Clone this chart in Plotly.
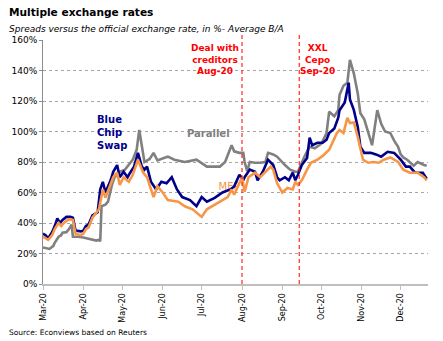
import plotly.graph_objects as go

# Blue Chip Swap spread (% over official rate)
bcs_dates = ["2020-03-01","2020-03-03","2020-03-05","2020-03-08","2020-03-10","2020-03-12","2020-03-14","2020-03-16",
             "2020-03-19","2020-03-22","2020-03-24","2020-03-26","2020-03-30","2020-04-01","2020-04-03","2020-04-05",
             "2020-04-06","2020-04-08","2020-04-12","2020-04-14","2020-04-16","2020-04-18","2020-04-22","2020-04-24",
             "2020-04-27","2020-04-29","2020-05-02","2020-05-05","2020-05-07","2020-05-10","2020-05-13","2020-05-16",
             "2020-05-18","2020-05-20","2020-05-23","2020-05-27","2020-05-31","2020-06-04","2020-06-08","2020-06-12",
             "2020-06-16","2020-06-22","2020-06-27","2020-07-01","2020-07-05","2020-07-11","2020-07-17","2020-07-23",
             "2020-07-26","2020-07-30","2020-08-02","2020-08-03","2020-08-07","2020-08-11","2020-08-13","2020-08-17",
             "2020-08-21","2020-08-25","2020-08-28","2020-08-30","2020-09-03","2020-09-06","2020-09-09","2020-09-11",
             "2020-09-13","2020-09-16","2020-09-20","2020-09-22","2020-09-24","2020-09-28","2020-10-02","2020-10-05",
             "2020-10-07","2020-10-11","2020-10-14","2020-10-15","2020-10-19","2020-10-22","2020-10-23","2020-10-26",
             "2020-10-29","2020-10-31","2020-11-03","2020-11-08","2020-11-12","2020-11-16","2020-11-21","2020-11-26",
             "2020-12-01","2020-12-05","2020-12-08","2020-12-12","2020-12-18","2020-12-21"]
bcs_vals = [33, 32, 30, 34, 38, 43, 40, 42,
            44, 44, 43.5, 35, 34.5, 35, 38, 39,
            41, 45, 47, 62, 67, 60, 68, 73.6,
            78, 70, 73.6, 70, 73, 77, 86, 77,
            75, 77, 67, 62, 67, 66, 70, 62,
            57, 55, 51, 57, 54, 56.5, 60, 62,
            64, 71.6, 68, 70, 75, 73.6, 68, 73.6,
            81.5, 78, 70, 68, 70, 68, 73, 68,
            71.6, 78, 82.6, 96, 91, 92.6, 92.6, 94.6,
            99, 102, 109, 114, 119, 132, 121, 114,
            103, 90, 86, 86, 85, 83.5, 86.7, 86,
            81.5, 77, 77, 73, 73, 69]

# MEP spread
mep_dates = ["2020-03-01","2020-03-03","2020-03-05","2020-03-08","2020-03-10","2020-03-13","2020-03-15","2020-03-17",
             "2020-03-20","2020-03-22","2020-03-24","2020-03-26","2020-03-30","2020-04-01","2020-04-03","2020-04-05",
             "2020-04-08","2020-04-13","2020-04-16","2020-04-18","2020-04-22","2020-04-24","2020-04-27","2020-04-29",
             "2020-05-02","2020-05-06","2020-05-09","2020-05-13","2020-05-17","2020-05-20","2020-05-25","2020-05-28",
             "2020-06-01","2020-06-05","2020-06-13","2020-06-18","2020-06-24","2020-07-01","2020-07-05","2020-07-11",
             "2020-07-16","2020-07-21","2020-07-24","2020-07-26","2020-08-01","2020-08-03","2020-08-06","2020-08-11",
             "2020-08-15","2020-08-19","2020-08-23","2020-08-25","2020-08-28","2020-09-01","2020-09-05","2020-09-09",
             "2020-09-11","2020-09-13","2020-09-16","2020-09-20","2020-09-23","2020-09-28","2020-10-02","2020-10-07",
             "2020-10-13","2020-10-15","2020-10-18","2020-10-21","2020-10-23","2020-10-26","2020-10-29","2020-11-02",
             "2020-11-06","2020-11-10","2020-11-14","2020-11-18","2020-11-23","2020-11-29","2020-12-03","2020-12-08",
             "2020-12-14","2020-12-19","2020-12-21"]
mep_vals = [31, 30, 29, 32, 36, 40, 38, 40,
            42, 42.5, 42, 33, 32, 33, 36, 37,
            43.5, 49, 62, 56.6, 65, 70, 73, 65,
            70, 67, 71.6, 81.5, 73, 70, 57, 64,
            60, 55, 54, 51, 49, 44, 49, 52,
            55, 57, 62, 58.5, 70, 60.5, 70, 73,
            70, 73.6, 77, 75, 66, 60, 63, 62,
            67, 65, 68, 75, 79.5, 81.5, 84, 88,
            99, 101, 99, 109, 105.6, 106, 96.5, 81.5,
            79.5, 80, 79.5, 81.5, 83, 80, 75, 73,
            73, 70, 68]

# Parallel (informal) spread
par_dates = ["2020-03-01","2020-03-04","2020-03-06","2020-03-09","2020-03-10","2020-03-13","2020-03-15","2020-03-16",
             "2020-03-19","2020-03-21","2020-03-23","2020-03-24","2020-03-28","2020-04-01","2020-04-05","2020-04-08",
             "2020-04-11","2020-04-13","2020-04-14","2020-04-15","2020-04-18","2020-04-20","2020-04-23","2020-04-25",
             "2020-04-29","2020-05-03","2020-05-06","2020-05-09","2020-05-12","2020-05-14","2020-05-18","2020-05-22",
             "2020-05-25","2020-05-28","2020-06-03","2020-06-05","2020-06-10","2020-06-18","2020-06-27","2020-07-01",
             "2020-07-05","2020-07-15","2020-07-19","2020-07-24","2020-07-26","2020-07-30","2020-08-02","2020-08-03",
             "2020-08-05","2020-08-07","2020-08-11","2020-08-15","2020-08-19","2020-08-21","2020-08-25","2020-08-28",
             "2020-08-30","2020-09-03","2020-09-07","2020-09-11","2020-09-13","2020-09-16","2020-09-18","2020-09-22",
             "2020-09-26","2020-10-01","2020-10-05","2020-10-07","2020-10-11","2020-10-14","2020-10-15","2020-10-18",
             "2020-10-21","2020-10-23","2020-10-26","2020-10-29","2020-10-31","2020-11-03","2020-11-06","2020-11-09",
             "2020-11-13","2020-11-16","2020-11-19","2020-11-23","2020-11-26","2020-11-29","2020-12-01","2020-12-03",
             "2020-12-06","2020-12-08","2020-12-11","2020-12-14","2020-12-16","2020-12-19","2020-12-21"]
par_vals = [24, 23.5, 23, 25, 27, 31, 32, 33.7,
            34, 36, 39, 31, 31, 30.5, 29.5, 29,
            28.5, 29, 28, 51, 52, 54, 65, 70,
            73.6, 75, 78, 81.5, 88, 101, 80, 82,
            86, 81, 83, 83.5, 81.5, 80, 81.5, 79.5,
            77, 77, 80, 91, 87, 86, 86, 80,
            74, 80, 79.5, 79.5, 80, 86, 85, 83.5,
            81.5, 78, 75, 73.6, 73.6, 80, 83.5, 90,
            89, 92, 99, 113, 110, 114, 124, 130,
            132, 147, 138, 125, 112, 108, 100, 91,
            114, 105, 100, 99, 94, 90, 85, 83,
            81.5, 80, 77.5, 80, 79, 78, 77.5]

# Policy events marked on the time axis
event_dates = ["2020-08-01", "2020-09-14"]
event_labels = ["Deal with<br>creditors<br>Aug-20", "XXL<br>Cepo<br>Sep-20"]
event_label_x = ["2020-07-11", "2020-09-28"]

NAVY = "#00008b"
ORANGE = "#f79646"
GREY = "#808080"
RED = "#ff0000"
FONT = "DejaVu Sans"

fig = go.Figure()

# MEP label sits underneath the series lines
fig.add_trace(go.Scatter(x=["2020-07-22"], y=[63.5], mode="text", text=["MEP"],
                         textfont=dict(family=FONT, size=10, color=ORANGE),
                         hoverinfo="skip", showlegend=False))

fig.add_trace(go.Scatter(x=par_dates, y=par_vals, mode="lines", name="Parallel",
                         line=dict(color=GREY, width=2.6), showlegend=False))
fig.add_trace(go.Scatter(x=bcs_dates, y=bcs_vals, mode="lines", name="Blue Chip Swap",
                         line=dict(color=NAVY, width=2.6), showlegend=False))
fig.add_trace(go.Scatter(x=mep_dates, y=mep_vals, mode="lines", name="MEP",
                         line=dict(color=ORANGE, width=2.6), showlegend=False))

for d in event_dates:
    fig.add_shape(type="line", xref="x", yref="paper", x0=d, x1=d, y0=0, y1=1.03,
                  line=dict(color=RED, width=1, dash="4px,3px"))

annotations = [
    dict(text="<b>Multiple exchange rates</b>", x=-0.093, y=1.115, xref="paper", yref="paper",
         xanchor="left", yanchor="middle", showarrow=False,
         font=dict(family=FONT, size=10.6, color="black")),
    dict(text="<i>Spreads versus the official exchange rate, in %- Average B/A</i>", x=-0.093, y=1.047,
         xref="paper", yref="paper", xanchor="left", yanchor="middle", showarrow=False,
         font=dict(family=FONT, size=9, color="black")),
    dict(text="Source: Econviews based on Reuters", x=-0.093, y=-0.2, xref="paper", yref="paper",
         xanchor="left", yanchor="middle", showarrow=False,
         font=dict(family=FONT, size=7.5, color="black")),
    dict(text="<b>Blue<br>Chip<br>Swap</b>", x="2020-04-10", y=113, xanchor="left", yanchor="top",
         align="left", showarrow=False, font=dict(family=FONT, size=10, color=NAVY)),
    dict(text="<b>Parallel</b>", x="2020-07-06", y=99, xanchor="center", yanchor="middle",
         showarrow=False, font=dict(family=FONT, size=10, color=GREY)),
]
for lab, lx in zip(event_labels, event_label_x):
    annotations.append(dict(text="<b>" + lab + "</b>", x=lx, y=159.5, xanchor="center", yanchor="top",
                            align="center", showarrow=False,
                            font=dict(family=FONT, size=9, color=RED)))

fig.update_layout(
    width=443, height=341,
    margin=dict(l=43, r=15, t=40, b=57),
    paper_bgcolor="white", plot_bgcolor="white",
    font=dict(family=FONT, color="black"),
    annotations=annotations,
    xaxis=dict(
        range=["2020-03-01", "2020-12-22"],
        tick0="2020-03-01", dtick="M1", tickformat="%b-%y", tickangle=-90,
        tickfont=dict(family=FONT, size=8, color="black"),
        showgrid=False, zeroline=False,
        showline=True, linecolor="#bfbfbf", linewidth=2,
        ticks="outside", ticklen=4, tickcolor="#bfbfbf",
    ),
    yaxis=dict(
        range=[0, 160], dtick=20, ticksuffix="%",
        tickfont=dict(family=FONT, size=9, color="black"),
        showgrid=True, gridcolor="#a6a6a6", gridwidth=1, griddash="dot",
        zeroline=False, showline=True, linecolor="#8c8c8c", linewidth=1,
        ticks="outside", ticklen=3, tickcolor="#8c8c8c",
    ),
)

fig.write_html("out.html")
